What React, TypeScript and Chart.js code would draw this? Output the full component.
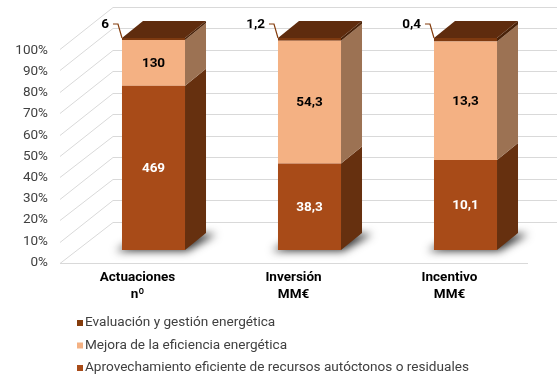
import { useEffect, useRef } from 'react';
import { Chart, registerables } from 'chart.js';

Chart.register(...registerables);

// ---- data ----
const categories: string[][] = [['Actuaciones', 'nº'], ['Inversión', 'MM€'], ['Incentivo', 'MM€']];
const seriesNames = [
  'Aprovechamiento eficiente de recursos autóctonos o residuales',
  'Mejora de la eficiencia energética',
  'Evaluación y gestión energética',
];
const aprovechamiento = [469, 38.3, 10.1];
const mejora = [130, 54.3, 13.3];
const evaluacion = [6, 1.2, 0.4];
const yMin = 0;
const yMax = 100;
const yStep = 10;

// ---- styles ----
const frontColors = ['#A84B18', '#F4B183', '#7E3A10'];
const sideColors = ['#66300F', '#9C7253', '#4A2208'];
const legendColors = ['#A84B18', '#F4B183', '#843C0C'];
const topColor = '#5F2C0E';
const labelColors = ['#FFFFFF', '#000000'];
const gridColor = '#D9D9D9';

const raw = [aprovechamiento, mejora, evaluacion];
const totals = categories.map((_, i) => raw.reduce((s, arr) => s + arr[i], 0));
const pct = raw.map((arr) => arr.map((v, i) => (v / totals[i]) * 100));
const fmt = (v: number) => String(v).replace('.', ',');

// 3D geometry (pixels)
const BAR_DX = 21;
const BAR_DY = -17;
const FRONT_DX = -15.5;
const FRONT_DY = 13;
const BACK_DX = 37.5;
const BACK_DY = -28.5;

const bars3d = {
  id: 'bars3d',
  beforeDatasetsDraw(chart: any) {
    const { ctx, chartArea, scales, width } = chart;
    const y = scales.y;
    const base = y.getPixelForValue(yMin);
    const h = base - y.getPixelForValue(yMax);
    ctx.save();
    ctx.strokeStyle = gridColor;
    ctx.lineWidth = 1;
    y.ticks.forEach((t: any) => {
      const yb = y.getPixelForValue(t.value);
      const d = yb - base;
      const yF = base + FRONT_DY + d * ((h + 2) / h);
      const yB = base + BACK_DY + d * ((h + 2.5) / h);
      const xF = chartArea.left + FRONT_DX;
      const xB = chartArea.left + BACK_DX;
      ctx.beginPath();
      ctx.moveTo(xF, Math.round(yF) + 0.5);
      ctx.lineTo(xB, Math.round(yB) + 0.5);
      ctx.lineTo(width, Math.round(yB) + 0.5);
      ctx.stroke();
      if (t.value === yMin) {
        ctx.beginPath();
        ctx.moveTo(xF, Math.round(yF) + 0.5);
        ctx.lineTo(chartArea.right + FRONT_DX, Math.round(yF) + 0.5);
        ctx.stroke();
      }
    });
    // floor shadows
    const meta0 = chart.getDatasetMeta(0);
    meta0.data.forEach((el: any) => {
      const xL = el.x - el.width / 2;
      const xR = el.x + el.width / 2;
      ctx.save();
      ctx.shadowColor = 'rgba(0,0,0,0.8)';
      ctx.shadowBlur = 9;
      ctx.shadowOffsetX = 1000 + 2;
      ctx.shadowOffsetY = 1;
      ctx.fillStyle = '#000';
      ctx.beginPath();
      ctx.moveTo(xL - 1000 - 8, base);
      ctx.lineTo(xR - 1000, base);
      ctx.lineTo(xR + BAR_DX - 1000 + 8, base + BAR_DY);
      ctx.lineTo(xL + BAR_DX - 1000, base + BAR_DY);
      ctx.closePath();
      ctx.fill();
      ctx.restore();
    });
    ctx.restore();
  },
  afterDatasetsDraw(chart: any) {
    const { ctx } = chart;
    const n = chart.data.datasets.length;
    ctx.save();
    for (let d = 0; d < n; d++) {
      const meta = chart.getDatasetMeta(d);
      meta.data.forEach((el: any) => {
        const xR = el.x + el.width / 2;
        ctx.fillStyle = sideColors[d];
        ctx.beginPath();
        ctx.moveTo(xR, el.y);
        ctx.lineTo(xR + BAR_DX, el.y + BAR_DY);
        ctx.lineTo(xR + BAR_DX, el.base + BAR_DY);
        ctx.lineTo(xR, el.base);
        ctx.closePath();
        ctx.fill();
      });
    }
    const topMeta = chart.getDatasetMeta(n - 1);
    topMeta.data.forEach((el: any) => {
      const xL = el.x - el.width / 2;
      const xR = el.x + el.width / 2;
      ctx.fillStyle = topColor;
      ctx.beginPath();
      ctx.moveTo(xL, el.y);
      ctx.lineTo(xL + BAR_DX, el.y + BAR_DY);
      ctx.lineTo(xR + BAR_DX, el.y + BAR_DY);
      ctx.lineTo(xR, el.y);
      ctx.closePath();
      ctx.fill();
    });
    // data labels
    ctx.font = 'bold 13.5px Roboto';
    ctx.textBaseline = 'middle';
    for (let d = 0; d < n; d++) {
      const meta = chart.getDatasetMeta(d);
      meta.data.forEach((el: any, i: number) => {
        const txt = fmt(raw[d][i]);
        if (d < n - 1) {
          ctx.fillStyle = labelColors[d];
          ctx.textAlign = 'center';
          ctx.fillText(txt, el.x, (el.y + el.base) / 2 + 1);
        } else {
          const xL = el.x - el.width / 2;
          const ty = el.y - 13;
          ctx.fillStyle = '#000';
          ctx.textAlign = 'right';
          ctx.fillText(txt, xL - 13, ty);
          ctx.strokeStyle = '#843C0C';
          ctx.lineWidth = 1.2;
          ctx.beginPath();
          ctx.moveTo(xL - 9, ty - 1);
          ctx.lineTo(xL - 4, ty - 1);
          ctx.lineTo(xL, el.y);
          ctx.stroke();
        }
      });
    }
    ctx.restore();
  },
  afterDraw(chart: any) {
    const { ctx } = chart;
    const n = chart.data.datasets.length;
    ctx.save();
    ctx.font = '13.6px Roboto';
    ctx.textBaseline = 'middle';
    ctx.textAlign = 'left';
    for (let k = 0; k < n; k++) {
      const d = n - 1 - k;
      const cy = 323 + k * 22.5;
      ctx.fillStyle = legendColors[d];
      ctx.fillRect(77, cy - 3, 6, 6);
      ctx.fillStyle = '#404040';
      ctx.fillText(chart.data.datasets[d].label, 85, cy);
    }
    ctx.restore();
  },
};

export default function App() {
  const ref = useRef<HTMLCanvasElement>(null);
  useEffect(() => {
    Chart.defaults.font.family = 'Roboto';
    const chart = new Chart(ref.current!, {
      type: 'bar',
      data: {
        labels: categories,
        datasets: seriesNames.map((name, d) => ({
          label: name,
          data: pct[d],
          backgroundColor: frontColors[d],
          borderWidth: 0,
          barPercentage: 0.404,
          categoryPercentage: 1,
        })),
      },
      options: {
        responsive: false,
        animation: false,
        events: [],
        layout: { padding: { top: 38, right: 13.5, left: 0, bottom: 0 } },
        plugins: { legend: { display: false }, tooltip: { enabled: false } },
        scales: {
          x: {
            stacked: true,
            grid: { display: false, drawTicks: false },
            border: { display: false },
            ticks: {
              font: { size: 13.5, weight: 'bold', family: 'Roboto' },
              color: '#000',
              padding: 20,
              labelOffset: -16,
              maxRotation: 0,
              autoSkip: false,
            },
            afterFit: (s: any) => {
              s.height = 132;
            },
          },
          y: {
            stacked: true,
            min: yMin,
            max: yMax,
            grid: { display: false, drawTicks: false },
            border: { display: false },
            ticks: {
              stepSize: yStep,
              font: { size: 13.5, family: 'Roboto' },
              color: '#404040',
              padding: 27.5,
              labelOffset: 12.5,
              callback: (v: any) => v + '%',
            },
            afterFit: (s: any) => {
              s.width = 75.5;
            },
          },
        },
      },
      plugins: [bars3d],
    } as any);
    return () => chart.destroy();
  }, []);
  return (
    <div style={{ position: 'fixed', left: 0, top: 0, width: 557, height: 382, background: '#fff' }}>
      <canvas ref={ref} width={557} height={382} style={{ display: 'block' }} />
    </div>
  );
}
